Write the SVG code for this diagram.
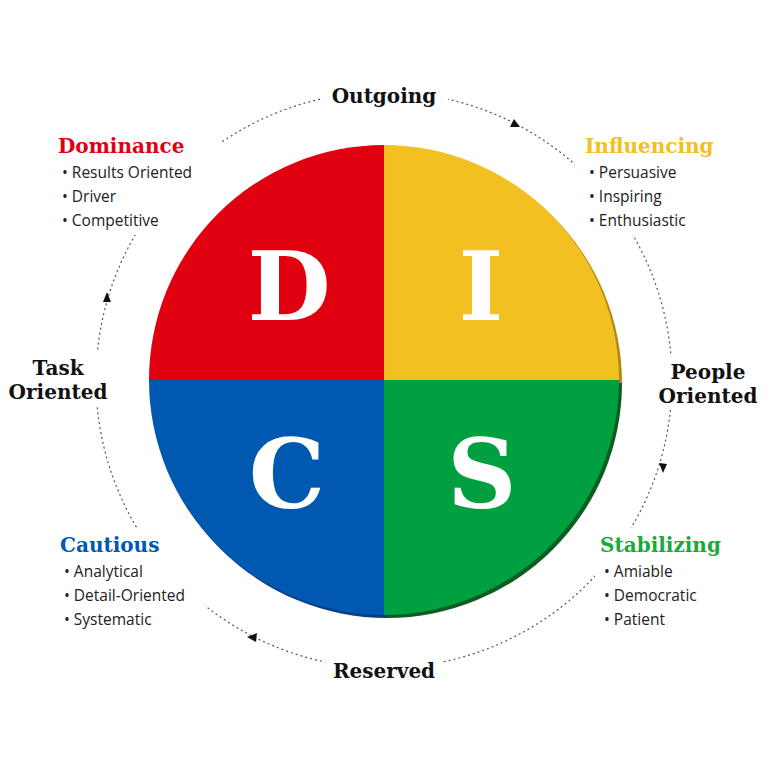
<svg xmlns="http://www.w3.org/2000/svg" width="768" height="768" viewBox="0 0 768 768">
<style>
.t{font-family:"DejaVu Serif",serif;font-weight:bold;font-size:20px}
.h{font-family:"DejaVu Serif",serif;font-weight:bold;font-size:20px;fill:#111}
.b{font-family:"Open Sans","DejaVu Sans",sans-serif;font-size:15.5px;fill:#222}
.L{font-family:"DejaVu Serif",serif;font-weight:bold;font-size:96px;fill:#fff;text-anchor:middle}
.dot{fill:none;stroke:#555;stroke-width:1.2;stroke-dasharray:2 3}
</style>
<rect width="768" height="768" fill="#fff"/>
<g id="connectors">
<circle class="dot" cx="384" cy="380" r="288"/>
<g fill="#111">
<polygon points="520,127 510,127 514,119" />
<polygon points="663,473 659,463 667,464" />
<polygon points="247,637 257,633 256,642" />
<polygon points="107,292 103,302 111,302" />
</g>
</g>
<g fill="#fff">
<rect x="320" y="80" width="128" height="30"/>
<rect x="575" y="130" width="150" height="105"/>
<rect x="650" y="355" width="115" height="55"/>
<rect x="595" y="528" width="135" height="105"/>
<rect x="325" y="655" width="118" height="32"/>
<rect x="55" y="528" width="150" height="105"/>
<rect x="3" y="352" width="110" height="55"/>
<rect x="52" y="130" width="168" height="105"/>
</g>
<g id="wheel">
<path d="M387,383 L387,148 A235,235 0 0 1 622,383Z" fill="#b08a10"/>
<path d="M387,383 L622,383 A235,235 0 0 1 387,618Z" fill="#0d5c22"/>
<path d="M387,383 L387,618 A235,235 0 0 1 152,383Z" fill="#0a3d80"/>
<path d="M384,380 L384,145 A235,235 0 0 0 149,380Z" fill="#e0000f"/>
<path d="M384,380 L384,145 A235,235 0 0 1 619,380Z" fill="#f2c020"/>
<path d="M384,380 L619,380 A235,235 0 0 1 384,615Z" fill="#00a040"/>
<path d="M384,380 L384,615 A235,235 0 0 1 149,380Z" fill="#0058b0"/>
<text class="L" x="289" y="320">D</text>
<text class="L" x="481" y="320">I</text>
<text class="L" x="287" y="508">C</text>
<text class="L" x="482" y="508">S</text>
</g>
<g id="outgoing"><text class="h" x="384" y="103" text-anchor="middle">Outgoing</text></g>
<g id="reserved"><text class="h" x="384" y="678" text-anchor="middle">Reserved</text></g>
<g id="task"><text class="h" x="58" y="375" text-anchor="middle">Task</text><text class="h" x="58" y="399" text-anchor="middle">Oriented</text></g>
<g id="people"><text class="h" x="708" y="379" text-anchor="middle">People</text><text class="h" x="708" y="403" text-anchor="middle">Oriented</text></g>
<g id="dominance"><text class="t" x="58" y="153" fill="#e0000f">Dominance</text>
<text class="b" x="62" y="178">• Results Oriented</text><text class="b" x="62" y="202">• Driver</text><text class="b" x="62" y="226">• Competitive</text></g>
<g id="influencing"><text class="t" x="585" y="153" fill="#f2c020">Influencing</text>
<text class="b" x="589" y="178">• Persuasive</text><text class="b" x="589" y="202">• Inspiring</text><text class="b" x="589" y="226">• Enthusiastic</text></g>
<g id="cautious"><text class="t" x="60" y="552" fill="#0058b0">Cautious</text>
<text class="b" x="64" y="577">• Analytical</text><text class="b" x="64" y="601">• Detail-Oriented</text><text class="b" x="64" y="625">• Systematic</text></g>
<g id="stabilizing"><text class="t" x="600" y="552" fill="#1aaa3a">Stabilizing</text>
<text class="b" x="604" y="577">• Amiable</text><text class="b" x="604" y="601">• Democratic</text><text class="b" x="604" y="625">• Patient</text></g>
</svg>
